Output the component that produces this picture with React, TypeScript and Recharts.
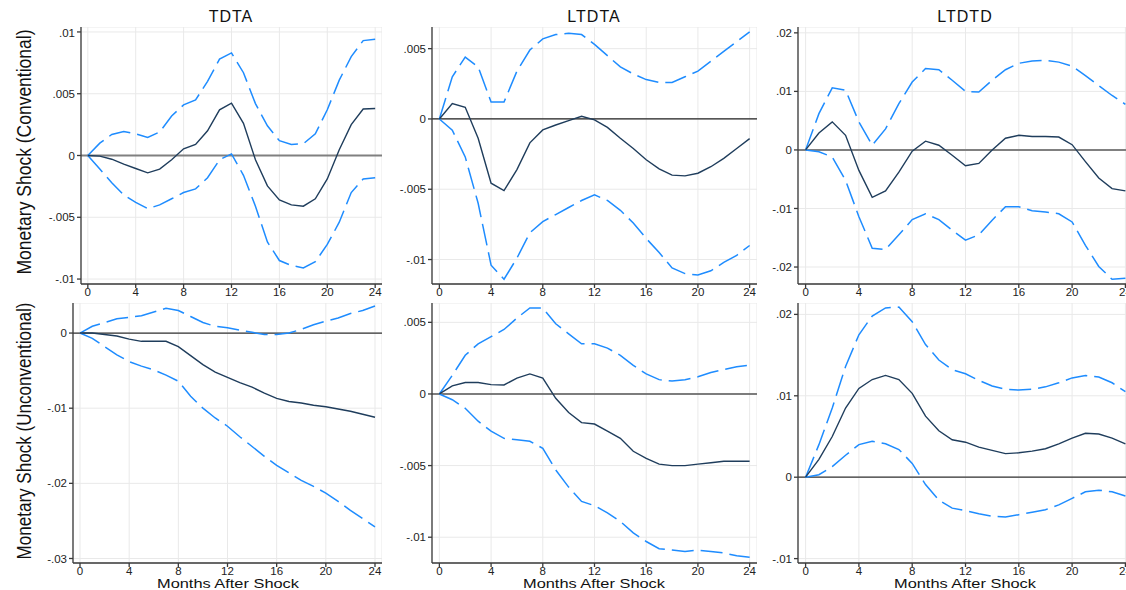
import React from 'react';
import { LineChart, Line, XAxis, YAxis, CartesianGrid, ReferenceLine } from 'recharts';

// horizon (months after shock)
const months = [0, 1, 2, 3, 4, 5, 6, 7, 8, 9, 10, 11, 12, 13, 14, 15, 16, 17, 18, 19, 20, 21, 22, 23, 24];
const monthTicks = [0, 4, 8, 12, 16, 20, 24];

// conventional shock
const tdtaConvIrf = [0, -0.00005, -0.0003, -0.0007, -0.00105, -0.0014, -0.0011, -0.00035, 0.00054, 0.0009, 0.002, 0.0037, 0.00424, 0.0026, -0.00035, -0.00246, -0.0036, -0.004, -0.0041, -0.0035, -0.0019, 0.00046, 0.0025, 0.00376, 0.0038];
const tdtaConvUpper = [0, 0.001, 0.0017, 0.00195, 0.00175, 0.00146, 0.0019, 0.0032, 0.0041, 0.0045, 0.006, 0.0078, 0.0083, 0.0067, 0.0042, 0.0024, 0.0012, 0.0009, 0.00095, 0.00175, 0.0037, 0.0061, 0.008, 0.0093, 0.0094];
const tdtaConvLower = [0, -0.0011, -0.0022, -0.0032, -0.0038, -0.0043, -0.004, -0.0035, -0.003, -0.0027, -0.0018, -0.00035, 0.00013, -0.0016, -0.0041, -0.007, -0.0085, -0.0089, -0.0091, -0.0086, -0.0072, -0.0054, -0.003, -0.0019, -0.0018];

const ltdtaConvIrf = [0, 0.0011, 0.00083, -0.00137, -0.00457, -0.0051, -0.0036, -0.0017, -0.00078, -0.00043, -0.00012, 0.00019, -0.00007, -0.0006, -0.00137, -0.0021, -0.0029, -0.00355, -0.004, -0.00405, -0.00386, -0.0034, -0.0028, -0.0021, -0.0014];
const ltdtaConvUpper = [0, 0.003, 0.0044, 0.0037, 0.0012, 0.0012, 0.0034, 0.0049, 0.0057, 0.006, 0.0061, 0.006, 0.0053, 0.0045, 0.0037, 0.0032, 0.0028, 0.0026, 0.0026, 0.003, 0.0034, 0.0041, 0.0048, 0.0055, 0.0062];
const ltdtaConvLower = [0, -0.0008, -0.0027, -0.006, -0.0104, -0.0114, -0.0099, -0.0081, -0.0073, -0.0068, -0.0063, -0.0058, -0.0054, -0.0058, -0.0065, -0.0074, -0.0085, -0.0095, -0.0106, -0.011, -0.0111, -0.0108, -0.0102, -0.0097, -0.009];

const ltdtdConvIrf = [0, 0.0029, 0.0048, 0.0025, -0.0035, -0.0081, -0.007, -0.0038, -0.0002, 0.0015, 0.0008, -0.0009, -0.0027, -0.0023, 0, 0.002, 0.0025, 0.0023, 0.0023, 0.0022, 0.0009, -0.002, -0.0048, -0.0066, -0.007];
const ltdtdConvUpper = [0, 0.0062, 0.0106, 0.0102, 0.0048, 0.0008, 0.0036, 0.0079, 0.0116, 0.0139, 0.0137, 0.0119, 0.01, 0.0099, 0.0119, 0.0137, 0.0148, 0.0152, 0.0153, 0.015, 0.0143, 0.0127, 0.011, 0.0093, 0.0078];
const ltdtdConvLower = [0, -0.0003, -0.0012, -0.0052, -0.0114, -0.0168, -0.017, -0.0145, -0.0119, -0.0109, -0.0119, -0.0137, -0.0154, -0.0145, -0.012, -0.0097, -0.0097, -0.0104, -0.0106, -0.0109, -0.0123, -0.0163, -0.0199, -0.0221, -0.0219];

// unconventional shock
const tdtaUnconvIrf = [0, 0, -0.0002, -0.0004, -0.0008, -0.0011, -0.0011, -0.0011, -0.0018, -0.003, -0.0042, -0.0052, -0.0059, -0.0066, -0.0072, -0.008, -0.0087, -0.0091, -0.0093, -0.0096, -0.0098, -0.0101, -0.0104, -0.0108, -0.0112];
const tdtaUnconvUpper = [0, 0.0009, 0.0014, 0.0019, 0.0021, 0.0023, 0.0028, 0.0033, 0.003, 0.0022, 0.0014, 0.0009, 0.0007, 0.0004, 0.0001, -0.0002, -0.0002, 0, 0.0005, 0.0011, 0.0016, 0.002, 0.0026, 0.003, 0.0036];
const tdtaUnconvLower = [0, -0.0007, -0.0018, -0.0029, -0.0038, -0.0044, -0.0049, -0.0056, -0.0064, -0.0084, -0.01, -0.0113, -0.0124, -0.0138, -0.0151, -0.0164, -0.0176, -0.0186, -0.0196, -0.0204, -0.0213, -0.0224, -0.0236, -0.0247, -0.0258];

const ltdtaUnconvIrf = [0, 0.00056, 0.0008, 0.0008, 0.00065, 0.00063, 0.0011, 0.0014, 0.0011, -0.0003, -0.0013, -0.002, -0.0021, -0.0026, -0.0031, -0.004, -0.0045, -0.0049, -0.005, -0.005, -0.0049, -0.0048, -0.0047, -0.0047, -0.0047];
const ltdtaUnconvUpper = [0, 0.0013, 0.0027, 0.0035, 0.004, 0.0045, 0.0053, 0.006, 0.006, 0.0049, 0.0042, 0.0035, 0.0035, 0.0032, 0.0027, 0.002, 0.0014, 0.001, 0.0009, 0.001, 0.0012, 0.0015, 0.0017, 0.0019, 0.002];
const ltdtaUnconvLower = [0, -0.0004, -0.001, -0.0019, -0.0026, -0.0031, -0.0032, -0.0033, -0.0038, -0.0053, -0.0065, -0.0075, -0.0078, -0.0083, -0.0089, -0.0097, -0.0103, -0.0108, -0.0109, -0.011, -0.0109, -0.011, -0.0111, -0.0113, -0.0114];

const ltdtdUnconvIrf = [0, 0.0022, 0.005, 0.0085, 0.0109, 0.012, 0.0125, 0.012, 0.0103, 0.0075, 0.0057, 0.0046, 0.0043, 0.0037, 0.0033, 0.0029, 0.003, 0.0032, 0.0035, 0.0041, 0.0048, 0.0054, 0.0053, 0.0048, 0.0041];
const ltdtdUnconvUpper = [0, 0.004, 0.0085, 0.0136, 0.0175, 0.0198, 0.0208, 0.0209, 0.0191, 0.0163, 0.0144, 0.0132, 0.0127, 0.0119, 0.0112, 0.0108, 0.0107, 0.0108, 0.0111, 0.0116, 0.0122, 0.0125, 0.0123, 0.0116, 0.0105];
const ltdtdUnconvLower = [0, 0.0003, 0.0013, 0.0027, 0.004, 0.0044, 0.0041, 0.0034, 0.0017, -0.0009, -0.0028, -0.0038, -0.0041, -0.0045, -0.0048, -0.0049, -0.0046, -0.0043, -0.004, -0.0034, -0.0026, -0.0018, -0.0016, -0.0018, -0.0023];

const FONT = '"Liberation Sans", Arial, Helvetica, sans-serif';
const NAVY = '#1f3d5c';
const BLUE = '#1e8cff';
const AXIS = '#3a3a3a';

const fmt = (v: number) => (v === 0 ? '0' : String(v).replace(/^(-?)0\./, '$1.'));

const build = (irf: number[], upper: number[], lower: number[]) =>
  months.map((m, i) => ({ m, irf: irf[i], upper: upper[i], lower: lower[i] }));

const YW = 60;
const XH = 26;

function Panel(props: any) {
  const { x, y, w, h, data, domain, ticks, zeroColor, zeroWidth } = props;
  const tickStyle = { fontSize: 11.5, fill: '#222', fontFamily: FONT };
  return (
    <div style={{ position: 'absolute', left: x - YW, top: y }}>
      <LineChart width={w + YW} height={h + XH} data={data} margin={{ top: 0, right: 0, bottom: 0, left: 0 }}>
        <CartesianGrid stroke="#e9e9e9" strokeWidth={1} />
        <XAxis
          dataKey="m"
          type="number"
          domain={[-0.57, 24.57]}
          ticks={monthTicks}
          allowDataOverflow
          height={XH}
          tickSize={4}
          tickMargin={0}
          tick={tickStyle}
          stroke={AXIS}
          strokeWidth={1.3}
        />
        <YAxis
          type="number"
          domain={domain}
          ticks={ticks}
          allowDataOverflow
          width={YW}
          tickSize={4}
          tickMargin={2}
          tick={tickStyle}
          tickFormatter={fmt}
          stroke={AXIS}
          strokeWidth={1.3}
        />
        <ReferenceLine y={0} stroke={zeroColor} strokeWidth={zeroWidth} />
        <Line type="linear" dataKey="upper" stroke={BLUE} strokeWidth={1.5} strokeDasharray="22 7" dot={false} isAnimationActive={false} />
        <Line type="linear" dataKey="lower" stroke={BLUE} strokeWidth={1.5} strokeDasharray="22 7" dot={false} isAnimationActive={false} />
        <Line type="linear" dataKey="irf" stroke={NAVY} strokeWidth={1.4} dot={false} isAnimationActive={false} />
      </LineChart>
    </div>
  );
}

export default function App() {
  return (
    <div style={{ position: 'fixed', left: 0, top: 0, width: 1126, height: 590, overflow: 'hidden', background: '#fff', fontFamily: FONT }}>
      <Panel x={81} y={27} w={301} h={257} data={build(tdtaConvIrf, tdtaConvUpper, tdtaConvLower)}
        domain={[-0.0104, 0.0104]} ticks={[-0.01, -0.005, 0, 0.005, 0.01]} zeroColor="#808080" zeroWidth={2} />
      <Panel x={432} y={27} w={325} h={257} data={build(ltdtaConvIrf, ltdtaConvUpper, ltdtaConvLower)}
        domain={[-0.01174, 0.00654]} ticks={[-0.01, -0.005, 0, 0.005]} zeroColor="#222" zeroWidth={1.2} />
      <Panel x={798} y={27} w={335} h={257} data={build(ltdtdConvIrf, ltdtdConvUpper, ltdtdConvLower)}
        domain={[-0.0229, 0.021]} ticks={[-0.02, -0.01, 0, 0.01, 0.02]} zeroColor="#808080" zeroWidth={2} />
      <Panel x={73} y={303} w={309} h={260} data={build(tdtaUnconvIrf, tdtaUnconvUpper, tdtaUnconvLower)}
        domain={[-0.0306, 0.004]} ticks={[-0.03, -0.02, -0.01, 0]} zeroColor="#333" zeroWidth={1.2} />
      <Panel x={432} y={303} w={325} h={260} data={build(ltdtaUnconvIrf, ltdtaUnconvUpper, ltdtaUnconvLower)}
        domain={[-0.0118, 0.00635]} ticks={[-0.01, -0.005, 0, 0.005]} zeroColor="#555" zeroWidth={1.5} />
      <Panel x={798} y={303} w={335} h={260} data={build(ltdtdUnconvIrf, ltdtdUnconvUpper, ltdtdUnconvLower)}
        domain={[-0.01054, 0.0214]} ticks={[-0.01, 0, 0.01, 0.02]} zeroColor="#333" zeroWidth={1.2} />

      <svg width={1126} height={590} style={{ position: 'absolute', left: 0, top: 0, pointerEvents: 'none' }}>
        <g fontFamily={FONT} fill="#111">
          <text x={231} y={22} textAnchor="middle" fontSize={16} letterSpacing={1}>TDTA</text>
          <text x={594} y={22} textAnchor="middle" fontSize={16} letterSpacing={1}>LTDTA</text>
          <text x={965} y={22} textAnchor="middle" fontSize={16} letterSpacing={1}>LTDTD</text>
          <text transform="translate(31,152) rotate(-90)" textAnchor="middle" fontSize={21} textLength={245} lengthAdjust="spacingAndGlyphs">
            Monetary Shock (Conventional)
          </text>
          <text transform="translate(31,431) rotate(-90)" textAnchor="middle" fontSize={21} textLength={257} lengthAdjust="spacingAndGlyphs">
            Monetary Shock (Unconventional)
          </text>
          <text x={228} y={588} textAnchor="middle" fontSize={13.5} textLength={142} lengthAdjust="spacingAndGlyphs">Months After Shock</text>
          <text x={594} y={588} textAnchor="middle" fontSize={13.5} textLength={142} lengthAdjust="spacingAndGlyphs">Months After Shock</text>
          <text x={965} y={588} textAnchor="middle" fontSize={13.5} textLength={142} lengthAdjust="spacingAndGlyphs">Months After Shock</text>
        </g>
      </svg>
    </div>
  );
}
